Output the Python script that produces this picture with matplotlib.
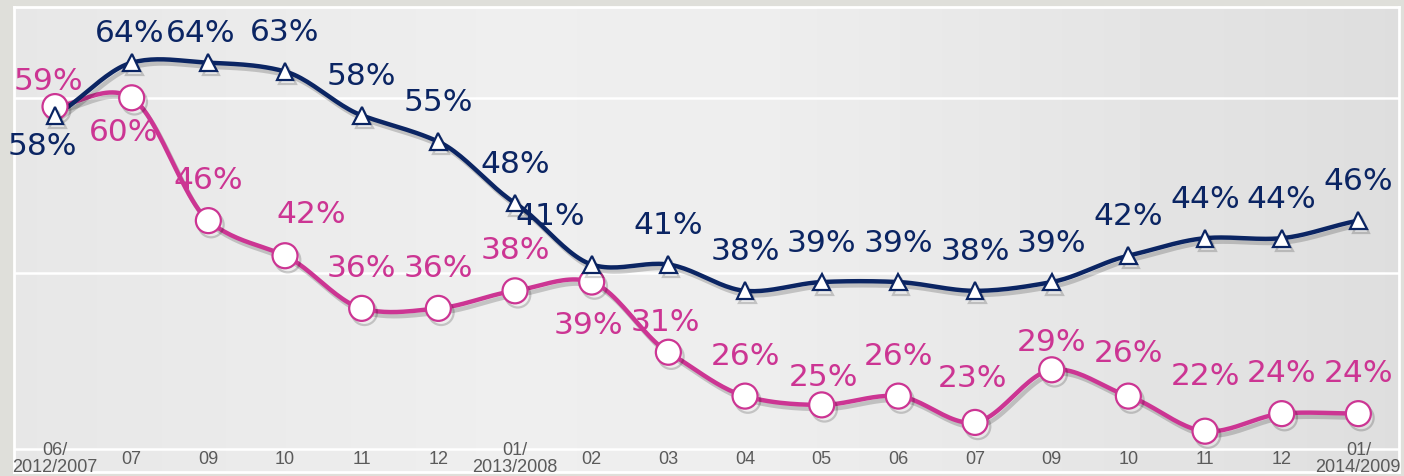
import numpy as np
import matplotlib
matplotlib.use("Agg")
import matplotlib.pyplot as plt
import matplotlib.patheffects as pe

# data
months = ["06/\n2012/2007", "07", "09", "10", "11", "12", "01/\n2013/2008", "02", "03",
          "04", "05", "06", "07", "09", "10", "11", "12", "01/\n2014/2009"]
navy_vals = [58, 64, 64, 63, 58, 55, 48, 41, 41, 38, 39, 39, 38, 39, 42, 44, 44, 46]
pink_vals = [59, 60, 46, 42, 36, 36, 38, 39, 31, 26, 25, 26, 23, 29, 26, 22, 24, 24]

# label offsets in pixels (dx, dy), default above the point
navy_off = {0: (-13, -30), 1: (-2, 30), 2: (-8, 30), 7: (-41, 49)}
pink_off = {0: (-7, 26), 1: (-8, -34), 3: (26, 42), 7: (-3, -42), 8: (-3, 31),
            10: (2, 28), 12: (-3, 45), 13: (0, 28), 14: (0, 44), 15: (0, 56)}

NAVY = "#0b2563"
PINK = "#cc3593"


def smooth(y, n=24):
    # catmull-rom style smoothing like the office "smoothed line"
    y = np.asarray(y, float)
    x = np.arange(len(y), dtype=float)
    p = np.concatenate([[2 * y[0] - y[1]], y, [2 * y[-1] - y[-2]]])
    xs, ys = [], []
    for i in range(len(y) - 1):
        t = np.linspace(0, 1, n, endpoint=False)
        p0, p1, p2, p3 = p[i], p[i + 1], p[i + 2], p[i + 3]
        m1 = (p2 - p0) / 2 * 0.8
        m2 = (p3 - p1) / 2 * 0.8
        h00 = 2 * t**3 - 3 * t**2 + 1
        h10 = t**3 - 2 * t**2 + t
        h01 = -2 * t**3 + 3 * t**2
        h11 = t**3 - t**2
        ys.append(h00 * p1 + h10 * m1 + h01 * p2 + h11 * m2)
        xs.append(x[i] + t)
    xs.append([x[-1]])
    ys.append([y[-1]])
    return np.concatenate(xs), np.concatenate(ys)


fig = plt.figure(figsize=(14.04, 4.77), dpi=100, facecolor="#dfdfda")
ax = fig.add_axes([14 / 1404, 4 / 477, 1385 / 1404, 465 / 477])

ax.set_xlim(-0.535, 17.53)
ax.set_ylim(17.35, 70.35)

# background gradient
grad = np.interp(np.linspace(0, 1, 300), [0, 0.35, 0.55, 1], [0.905, 0.935, 0.93, 0.87])
ax.imshow(np.tile(grad, (10, 1)), cmap="gray", vmin=0, vmax=1, aspect="auto",
          extent=[0, 1, 0, 1], transform=ax.transAxes, zorder=0)

for g in [20, 40, 60]:
    ax.axhline(g, color="white", lw=1.8, zorder=1)

for s in ax.spines.values():
    s.set_color("white")
    s.set_linewidth(2)
ax.set_xticks([])
ax.set_yticks([])

shadow = [pe.SimpleLineShadow(offset=(2, -3), shadow_color="black", alpha=0.18),
          pe.Normal()]

x = np.arange(len(months))
sx, sy = smooth(navy_vals)
ax.plot(sx, sy, color=NAVY, lw=3.2, zorder=3, path_effects=shadow)
ax.plot(x, navy_vals, ls="none", marker="^", ms=12, mfc="white", mec=NAVY, mew=1.6,
        zorder=5, path_effects=shadow)

sx, sy = smooth(pink_vals)
ax.plot(sx, sy, color=PINK, lw=3.2, zorder=2, path_effects=shadow)
ax.plot(x, pink_vals, ls="none", marker="o", ms=18, mfc="white", mec=PINK, mew=1.6,
        zorder=4, path_effects=shadow)

for i, v in enumerate(navy_vals):
    dx, dy = navy_off.get(i, (0, 40))
    ax.annotate(f"{v}%", (i, v), xytext=(dx, dy), textcoords="offset pixels",
                ha="center", va="center", fontsize=22.5, color=NAVY, zorder=6)
for i, v in enumerate(pink_vals):
    dx, dy = pink_off.get(i, (0, 41))
    ax.annotate(f"{v}%", (i, v), xytext=(dx, dy), textcoords="offset pixels",
                ha="center", va="center", fontsize=22.5, color=PINK, zorder=6)

for i, m in enumerate(months):
    ax.text(i, 18.9, m, ha="center", va="center", fontsize=13, color="#5a5a5a",
            family=["Liberation Sans", "DejaVu Sans"], linespacing=1.0, zorder=6,
            clip_on=False)

fig.savefig("out.png", dpi=100, facecolor=fig.get_facecolor())
